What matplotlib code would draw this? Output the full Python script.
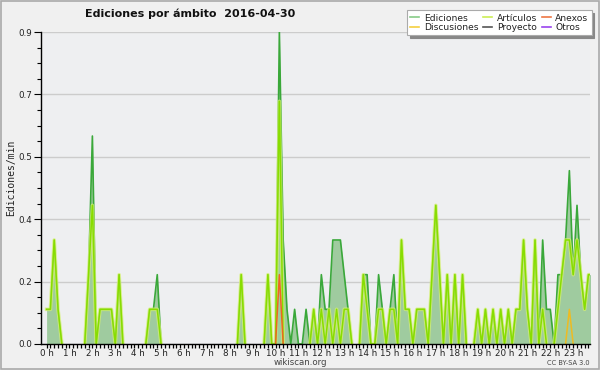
import numpy as np
import matplotlib
matplotlib.use("Agg")
import matplotlib.pyplot as plt
from matplotlib.lines import Line2D
from matplotlib.patches import Rectangle

# 10-minute bins, one row per hour (edits per minute)
ediciones = [
    0.1, 0.1, 0.3, 0.1, 0.0, 0.0,   # 0h
    0.0, 0.0, 0.0, 0.0, 0.0, 0.2,   # 1h
    0.6, 0.0, 0.1, 0.1, 0.1, 0.1,   # 2h
    0.0, 0.2, 0.0, 0.0, 0.0, 0.0,   # 3h
    0.0, 0.0, 0.0, 0.1, 0.1, 0.2,   # 4h
    0.0, 0.0, 0.0, 0.0, 0.0, 0.0,   # 5h
    0.0, 0.0, 0.0, 0.0, 0.0, 0.0,   # 6h
    0.0, 0.0, 0.0, 0.0, 0.0, 0.0,   # 7h
    0.0, 0.0, 0.0, 0.2, 0.0, 0.0,   # 8h
    0.0, 0.0, 0.0, 0.0, 0.2, 0.0,   # 9h
    0.0, 0.9, 0.3, 0.1, 0.0, 0.1,   # 10h
    0.0, 0.0, 0.1, 0.0, 0.1, 0.0,   # 11h
    0.2, 0.1, 0.1, 0.3, 0.3, 0.3,   # 12h
    0.2, 0.1, 0.0, 0.0, 0.0, 0.2,   # 13h
    0.2, 0.0, 0.0, 0.2, 0.1, 0.0,   # 14h
    0.1, 0.2, 0.0, 0.3, 0.1, 0.1,   # 15h
    0.0, 0.1, 0.1, 0.1, 0.0, 0.2,   # 16h
    0.4, 0.2, 0.0, 0.2, 0.0, 0.2,   # 17h
    0.0, 0.2, 0.0, 0.0, 0.0, 0.1,   # 18h
    0.0, 0.1, 0.0, 0.1, 0.0, 0.1,   # 19h
    0.0, 0.1, 0.0, 0.1, 0.1, 0.3,   # 20h
    0.1, 0.0, 0.3, 0.0, 0.3, 0.1,   # 21h
    0.1, 0.0, 0.2, 0.2, 0.3, 0.5,   # 22h
    0.2, 0.4, 0.2, 0.1, 0.2, 0.2,   # 23h
]

articulos = [
    0.1, 0.1, 0.3, 0.1, 0.0, 0.0,
    0.0, 0.0, 0.0, 0.0, 0.0, 0.2,
    0.4, 0.0, 0.1, 0.1, 0.1, 0.1,
    0.0, 0.2, 0.0, 0.0, 0.0, 0.0,
    0.0, 0.0, 0.0, 0.1, 0.1, 0.1,
    0.0, 0.0, 0.0, 0.0, 0.0, 0.0,
    0.0, 0.0, 0.0, 0.0, 0.0, 0.0,
    0.0, 0.0, 0.0, 0.0, 0.0, 0.0,
    0.0, 0.0, 0.0, 0.2, 0.0, 0.0,
    0.0, 0.0, 0.0, 0.0, 0.2, 0.0,
    0.0, 0.7, 0.0, 0.0, 0.0, 0.0,
    0.0, 0.0, 0.0, 0.0, 0.1, 0.0,
    0.1, 0.0, 0.1, 0.0, 0.1, 0.0,
    0.1, 0.1, 0.0, 0.0, 0.0, 0.2,
    0.1, 0.0, 0.0, 0.1, 0.1, 0.0,
    0.1, 0.1, 0.0, 0.3, 0.1, 0.1,
    0.0, 0.1, 0.1, 0.1, 0.0, 0.2,
    0.4, 0.2, 0.0, 0.2, 0.0, 0.2,
    0.0, 0.2, 0.0, 0.0, 0.0, 0.1,
    0.0, 0.1, 0.0, 0.1, 0.0, 0.1,
    0.0, 0.1, 0.0, 0.1, 0.1, 0.3,
    0.1, 0.0, 0.3, 0.0, 0.1, 0.0,
    0.0, 0.0, 0.1, 0.2, 0.3, 0.3,
    0.2, 0.3, 0.2, 0.1, 0.2, 0.2,
]

# sparse series: bin index -> value
anexos_points = {60: 0.0, 61: 0.2, 62: 0.0}
discusiones_points = {136: 0.0, 137: 0.1, 138: 0.0}

hour_labels = [f"{h} h" for h in range(24)]
y_ticks = [0.0, 0.18, 0.36, 0.54, 0.72, 0.9]

legend_labels = ["Ediciones", "Discusiones", "Artículos", "Proyecto", "Anexos", "Otros"]
legend_colors = ["#88cc88", "#f5d040", "#ccee55", "#555555", "#ee7744", "#9944ee"]

tot = np.array(ediciones)
art = np.array(articulos)
x = np.arange(len(tot))


def mask_flat_zero(v):
    v = np.asarray(v, dtype=float)
    m = np.zeros(len(v), bool)
    for i in range(len(v)):
        lo = v[i - 1] if i > 0 else 0
        hi = v[i + 1] if i < len(v) - 1 else 0
        m[i] = v[i] == 0 and lo == 0 and hi == 0
    return np.ma.masked_array(v, m)


fig = plt.figure(figsize=(6.0, 3.7), dpi=100, facecolor="#f0f0f0")
ax = fig.add_axes([0.0678, 0.0703, 0.9155, 0.8432])
ax.set_facecolor("#eeeff1")

ax.fill_between(x, 0, tot, color="#9fcb9f", lw=0, zorder=2)
ax.plot(x, mask_flat_zero(tot), color="#3aa83a", lw=1.2, zorder=3)
art_m = mask_flat_zero(art)
ax.plot(x, art_m, color="#d4f070", lw=2.6, alpha=0.75, zorder=4, solid_joinstyle="round")
ax.plot(x, art_m, color="#88dd00", lw=1.1, zorder=5)

ax.plot(list(anexos_points.keys()), list(anexos_points.values()), color="#ee6622", lw=1.1, zorder=6)
ax.plot(list(discusiones_points.keys()), list(discusiones_points.values()), color="#eebb22", lw=1.1, zorder=6)

ax.set_xlim(-1.55, 142.4)
ax.set_ylim(0, 0.9)

ax.set_yticks(y_ticks)
ax.set_yticklabels([f"{v:.1f}" for v in y_ticks])
ax.set_yticks(np.arange(0, 0.9001, 0.045), minor=True)
ax.set_xticks(np.arange(0, 144, 6))
ax.set_xticklabels(hour_labels)
ax.set_xticks(np.arange(0, 143, 1), minor=True)

ax.grid(axis="y", color="#cccccc", lw=1.0, zorder=1)
ax.set_axisbelow(True)
for s in ["top", "right"]:
    ax.spines[s].set_visible(False)
for s in ["left", "bottom"]:
    ax.spines[s].set_color("black")
    ax.spines[s].set_linewidth(1.0)
    ax.spines[s].set_zorder(10)

ax.tick_params(axis="y", which="major", length=5, width=0.8, labelsize=6.3, pad=1, colors="black")
ax.tick_params(axis="y", which="minor", length=3, width=0.8)
ax.tick_params(axis="x", which="both", length=3, width=0.9, labelsize=6.3, pad=0.3)
for lbl in ax.get_xticklabels() + ax.get_yticklabels():
    lbl.set_color("#222222")

fig.text(0.018, 0.52, "Ediciones/min", rotation=90, ha="center", va="center",
         fontsize=7, color="#222222", family="DejaVu Sans Mono")
fig.text(0.317, 0.962, "Ediciones por ámbito  2016-04-30", ha="center", va="center",
         fontsize=8, weight="bold", color="#111111")
fig.text(0.5, 0.019, "wikiscan.org", ha="center", va="center", fontsize=6.2, color="#444444")
fig.text(0.983, 0.019, "CC BY-SA 3.0", ha="right", va="center", fontsize=4.8, color="#444444")

handles = [Line2D([0], [0], color=c, lw=1.2) for c in legend_colors]
leg = fig.legend(handles, legend_labels, ncol=3, loc="upper right",
                 bbox_to_anchor=(0.986, 0.972), fontsize=6.6, frameon=True,
                 fancybox=False, shadow={"color": "#888888", "alpha": 1.0},
                 handlelength=1.0, handletextpad=0.5, columnspacing=0.5,
                 labelspacing=0.05, borderpad=0.35, borderaxespad=0)
leg.get_frame().set_facecolor("white")
leg.get_frame().set_edgecolor("#aaaaaa")
leg.get_frame().set_linewidth(0.8)
for t in leg.get_texts():
    t.set_color("#222222")

fig.patches.append(Rectangle((0.0015, 0.0025), 0.997, 0.995, transform=fig.transFigure,
                             fill=False, edgecolor="#aaaaaa", lw=1.2))

fig.savefig("out.png", dpi=100, facecolor=fig.get_facecolor())
